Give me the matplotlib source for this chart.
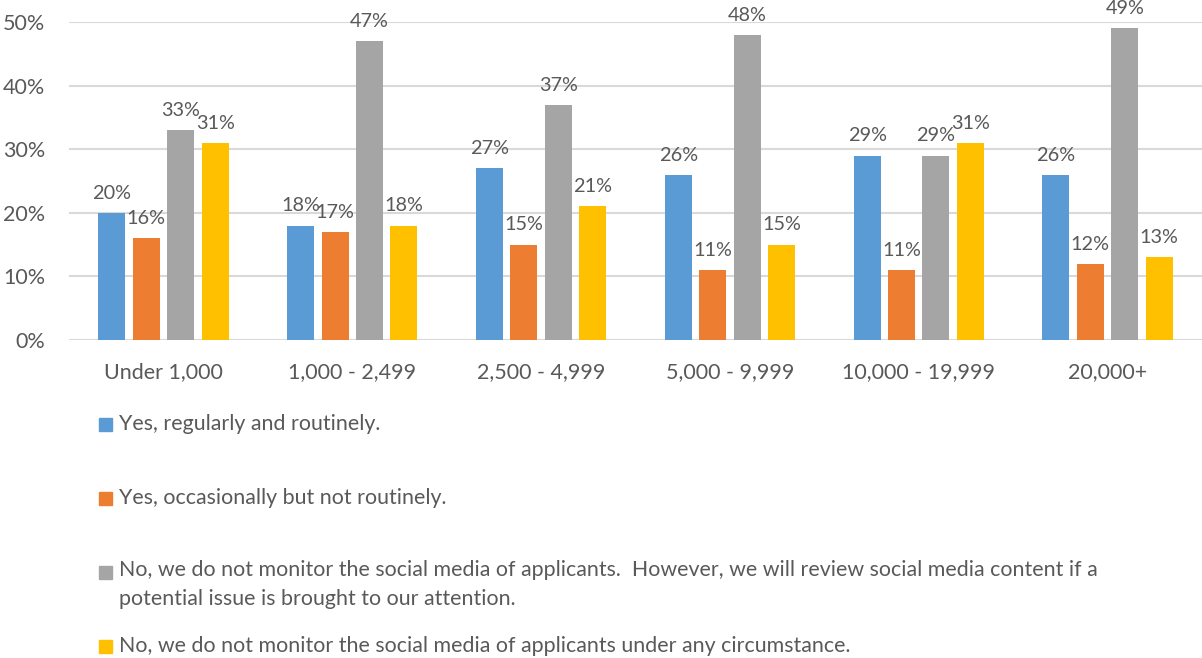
import numpy as np
import matplotlib
matplotlib.use("Agg")
import matplotlib.pyplot as plt
from matplotlib.patches import Rectangle
from matplotlib.ticker import PercentFormatter

categories = ["Under 1,000", "1,000 - 2,499", "2,500 - 4,999", "5,000 - 9,999",
              "10,000 - 19,999", "20,000+"]
series_names = [
    "Yes, regularly and routinely.",
    "Yes, occasionally but not routinely.",
    "No, we do not monitor the social media of applicants.  However, we will review social media content if a\n"
    "potential issue is brought to our attention.",
    "No, we do not monitor the social media of applicants under any circumstance.",
]
regularly = [20, 18, 27, 26, 29, 26]
occasionally = [16, 17, 15, 11, 11, 12]
no_review = [33, 47, 37, 48, 29, 49]
no_never = [31, 18, 21, 15, 31, 13]
colors = ["#5B9BD5", "#ED7D31", "#A5A5A5", "#FFC000"]

plt.rcParams["font.family"] = ["Lato", "DejaVu Sans"]
txt = "#595959"

fig = plt.figure(figsize=(12.02, 6.58), dpi=100)
ax = fig.add_axes([69 / 1202, 1 - 340 / 658, 1 - 69 / 1202, (340 - 22) / 658])

x = np.arange(len(categories))
width = 0.143
step = 0.1825
all_series = [regularly, occasionally, no_review, no_never]
for i, (vals, col) in enumerate(zip(all_series, colors)):
    bars = ax.bar(x + (i - 1.5) * step, vals, width, color=col, zorder=3)
    ax.bar_label(bars, labels=[f"{v}%" for v in vals], padding=8,
                 fontsize=14.3, color=txt, clip_on=False)

ax.set_xlim(-0.5, len(categories) - 0.5)
ax.set_ylim(0, 50)
ax.set_yticks(range(0, 51, 10))
ax.yaxis.set_major_formatter(PercentFormatter(decimals=0))
ax.set_xticks(x)
ax.set_xticklabels(categories)
ax.grid(axis="y", color="#D9D9D9", linewidth=1.5, zorder=0)
ax.tick_params(length=0, labelsize=15.5, colors=txt)
ax.tick_params(axis="x", pad=16)
ax.tick_params(axis="y", pad=17)
for s in ax.spines.values():
    s.set_visible(False)

# legend drawn below the plot, one entry per row
row_y = [424, 498, 572, 646]
for name, col, yy in zip(series_names, colors, row_y):
    fig.add_artist(Rectangle((99 / 1202, 1 - (yy + 7) / 658), 13 / 1202, 13 / 658,
                             transform=fig.transFigure, color=col))
    if "\n" in name:
        fig.text(119 / 1202, 1 - (yy - 12) / 658, name, fontsize=15.4, color=txt,
                 va="top", linespacing=1.55)
    else:
        fig.text(119 / 1202, 1 - yy / 658, name, fontsize=15.4, color=txt,
                 va="center")

fig.savefig("out.png", dpi=100)
